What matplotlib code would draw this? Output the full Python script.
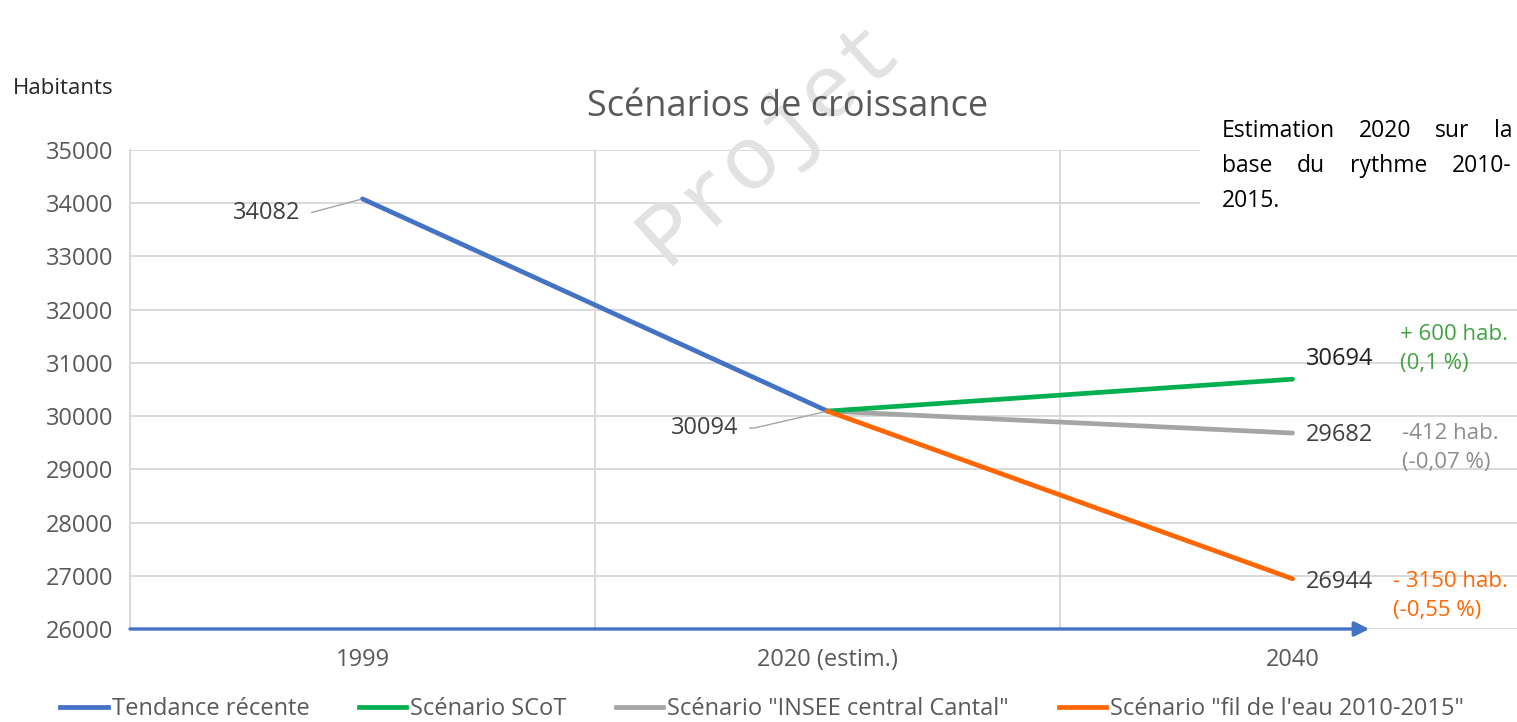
import numpy as np
import matplotlib.pyplot as plt
from matplotlib.lines import Line2D
from matplotlib.patches import Rectangle

# ── data ────────────────────────────────────────────────────────────────────
categories = ["1999", "2020 (estim.)", "2040"]

tendance = [34082, 30094]            # 1999 -> 2020
scot = [30094, 30694]                # 2020 -> 2040
insee = [30094, 29682]
fil_eau = [30094, 26944]

series_labels = ["Tendance récente", "Scénario SCoT",
                 "Scénario \"INSEE central Cantal\"",
                 "Scénario \"fil de l'eau 2010-2015\""]
series_colors = ["#4472C4", "#00B050", "#A5A5A5", "#FF6600"]

deltas = ["+ 600 hab.\n(0,1 %)", "-412 hab.\n(-0,07 %)", "- 3150 hab.\n(-0,55 %)"]
delta_colors = ["#3FA33F", "#8C8C8C", "#FF6600"]

yticks = np.arange(26000, 35001, 1000)

plt.rcParams['font.family'] = ['Open Sans', 'DejaVu Sans']

W, H = 1517, 722
fig = plt.figure(figsize=(W / 100, H / 100), dpi=100)
ax = fig.add_axes([130 / W, 93 / H, 1395 / W, 479 / H])

# ── lines ───────────────────────────────────────────────────────────────────
lw = 3.4
ax.plot([0, 1], tendance, color=series_colors[0], lw=lw, solid_capstyle='round', zorder=3)
ax.plot([1, 2], insee, color=series_colors[2], lw=lw, solid_capstyle='round', zorder=3)
ax.plot([1, 2], scot, color=series_colors[1], lw=lw, solid_capstyle='round', zorder=4)
ax.plot([1, 2], fil_eau, color=series_colors[3], lw=lw, solid_capstyle='round', zorder=4)

ax.set_xlim(-0.5, 2.5)
ax.set_ylim(26000, 35000)
ax.set_yticks(yticks)
ax.set_yticklabels([str(v) for v in yticks])
ax.set_xticks(range(len(categories)))
ax.set_xticklabels(categories)
ax.tick_params(axis='both', length=0, labelsize=17, colors='#595959')
ax.tick_params(axis='y', pad=12)
ax.tick_params(axis='x', pad=14)

ax.set_xticks([0.5, 1.5], minor=True)
ax.tick_params(axis='x', which='minor', length=0)
ax.grid(axis='y', color='#D9D9D9', lw=1.4)
ax.grid(axis='x', which='minor', color='#D9D9D9', lw=1.4)
for s in ('top', 'right', 'bottom'):
    ax.spines[s].set_visible(False)
ax.spines['left'].set_color('#D9D9D9')
ax.spines['left'].set_linewidth(1.4)

# blue arrow along the base of the chart
ax.annotate('', xy=(2.165, 26000), xytext=(-0.5, 26000),
            arrowprops=dict(arrowstyle='-|>', color='#4472C4', lw=2.4,
                            mutation_scale=22, shrinkA=0, shrinkB=0),
            annotation_clip=False, zorder=5)

# ── value labels ────────────────────────────────────────────────────────────
lbl = dict(fontsize=17, color='#404040', va='center', textcoords='offset pixels')
ax.annotate(str(tendance[0]), xy=(0, tendance[0]), xytext=(-62, -14), ha='right',
            arrowprops=dict(arrowstyle='-', color='#A6A6A6', lw=1.0, relpos=(1, 0.5),
                            shrinkA=6, shrinkB=2,
                            connectionstyle="angle,angleA=0,angleB=15,rad=0"), **lbl)
ax.annotate(str(tendance[1]), xy=(1, tendance[1]), xytext=(-89, -17), ha='right',
            arrowprops=dict(arrowstyle='-', color='#A6A6A6', lw=1.0, relpos=(1, 0.5),
                            shrinkA=6, shrinkB=2,
                            connectionstyle="angle,angleA=0,angleB=13,rad=0"), **lbl)
ax.annotate(str(scot[1]), xy=(2, scot[1]), xytext=(13, 20), ha='left',
            **{**lbl, 'color': '#1F1F1F'})
ax.annotate(str(insee[1]), xy=(2, insee[1]), xytext=(13, -2), ha='left', **lbl)
ax.annotate(str(fil_eau[1]), xy=(2, fil_eau[1]), xytext=(13, -3), ha='left', **lbl)

# scenario deltas on the right
for txt, col, (x, y) in zip(deltas, delta_colors, [(1400, 349), (1402, 448), (1393, 596)]):
    fig.text(x / W, 1 - y / H, txt, color=col, fontsize=16, ha='left', va='center',
             linespacing=1.55)

# ── titles ──────────────────────────────────────────────────────────────────
fig.text(788 / W, 1 - 107 / H, "Scénarios de croissance", fontsize=26,
         color='#595959', ha='center', va='center')
fig.text(13 / W, 1 - 88 / H, "Habitants", fontsize=16, color='#262626',
         ha='left', va='center')

# watermark
fig.text(770 / W, 1 - 142 / H, "Projet", family='Liberation Mono', fontsize=64,
         color='#E2E2E2', rotation=42, ha='center', va='center',
         rotation_mode='anchor', zorder=1)

# ── note box (justified text) ───────────────────────────────────────────────
fig.patches.append(Rectangle((1200 / W, 1 - 218 / H), 320 / W, 106 / H,
                             transform=fig.transFigure, facecolor='white',
                             edgecolor='none', zorder=2))

def justified_line(words, y, x0, x1, last=False):
    texts = [fig.text(0, 1 - y / H, w, fontsize=16.5, color='black', va='center',
                      ha='left', zorder=3) for w in words]
    r = fig.canvas.get_renderer()
    widths = [t.get_window_extent(r).width for t in texts]
    gap = 8 if last or len(words) == 1 else (x1 - x0 - sum(widths)) / (len(words) - 1)
    x = x0
    for t, w in zip(texts, widths):
        t.set_x(x / W)
        x += w + gap

justified_line(["Estimation", "2020", "sur", "la"], 131, 1222, 1512)
justified_line(["base", "du", "rythme", "2010-"], 166, 1222, 1512)
justified_line(["2015."], 201, 1222, 1512, last=True)

# ── legend ──────────────────────────────────────────────────────────────────
handles = [Line2D([], [], color=c, lw=lw) for c in series_colors]
fig.legend(handles, series_labels, loc='center', bbox_to_anchor=(762 / W, 1 - 709 / H),
           ncol=4, frameon=False, fontsize=17, handlelength=2.0, handletextpad=0.17,
           columnspacing=2.1, labelcolor='#595959', borderpad=0)

fig.savefig("out.png", dpi=100)
